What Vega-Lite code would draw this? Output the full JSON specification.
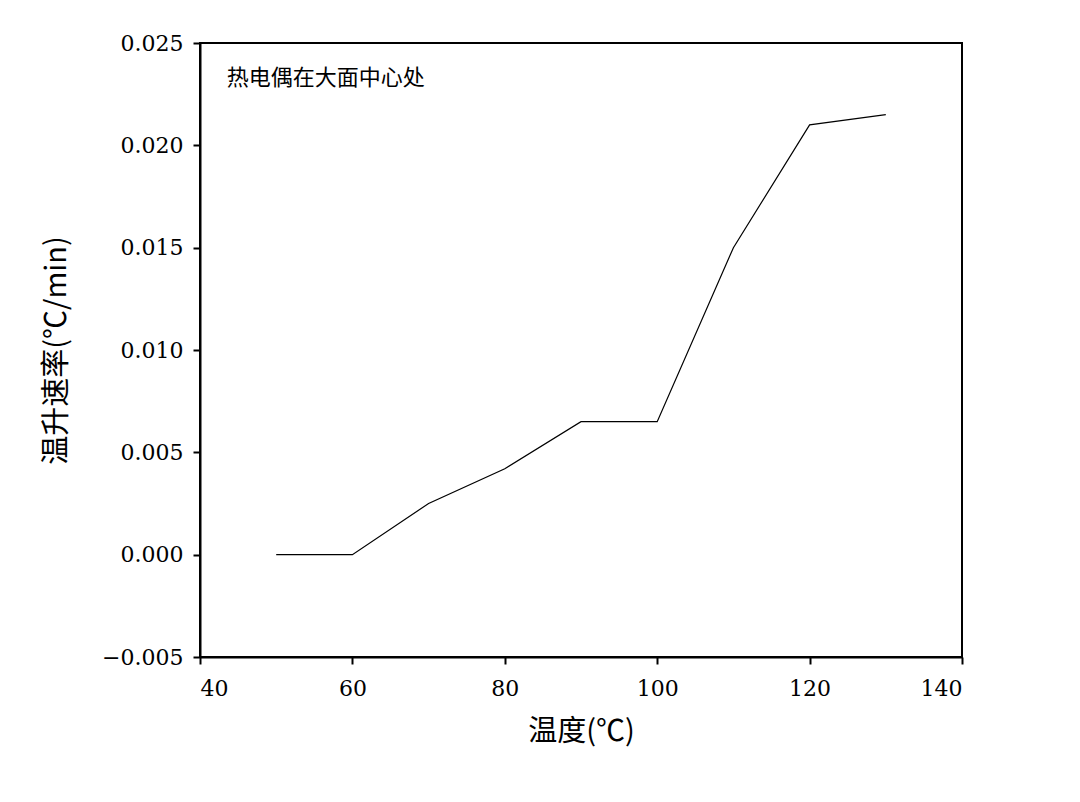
{
  "$schema": "https://vega.github.io/schema/vega-lite/v6.json",
  "width": 762,
  "height": 614,
  "autosize": {"type": "none"},
  "padding": {"left": 200, "top": 43, "right": 118, "bottom": 145},
  "background": "white",
  "config": {
    "view": {"stroke": "black", "strokeWidth": 2},
    "axis": {
      "domainColor": "black", "domainWidth": 2,
      "tickColor": "black", "tickWidth": 2, "tickSize": 7,
      "grid": false,
      "labelFont": "DejaVu Serif", "labelFontSize": 22, "labelColor": "black",
      "titleFont": "Noto Sans CJK SC", "titleFontSize": 29, "titleFontWeight": "normal", "titleColor": "black"
    }
  },
  "data": {"values": [
    {"t": 50, "r": 0.0},
    {"t": 60, "r": 0.0},
    {"t": 70, "r": 0.0025},
    {"t": 80, "r": 0.0042},
    {"t": 90, "r": 0.0065},
    {"t": 100, "r": 0.0065},
    {"t": 110, "r": 0.015},
    {"t": 120, "r": 0.021},
    {"t": 130, "r": 0.0215}
  ]},
  "layer": [
    {
      "mark": {"type": "line", "color": "black", "strokeWidth": 1.2},
      "encoding": {
        "x": {"field": "t", "type": "quantitative", "scale": {"domain": [40, 140], "nice": false, "zero": false},
              "axis": {"title": "温度(℃)", "values": [40, 60, 80, 100, 120, 140], "labelPadding": 14, "titlePadding": 18}},
        "y": {"field": "r", "type": "quantitative", "scale": {"domain": [-0.005, 0.025], "nice": false, "zero": false},
              "axis": {"title": "温升速率(℃/min)", "values": [-0.005, 0, 0.005, 0.01, 0.015, 0.02, 0.025], "format": ".3f", "labelPadding": 10, "titlePadding": 30}}
      }
    },
    {
      "data": {"values": [{"t": 43.5, "r": 0.0233, "label": "热电偶在大面中心处"}]},
      "mark": {"type": "text", "align": "left", "baseline": "middle", "font": "Noto Sans CJK SC", "fontSize": 22, "color": "black"},
      "encoding": {
        "x": {"field": "t", "type": "quantitative"},
        "y": {"field": "r", "type": "quantitative"},
        "text": {"field": "label"}
      }
    }
  ]
}
